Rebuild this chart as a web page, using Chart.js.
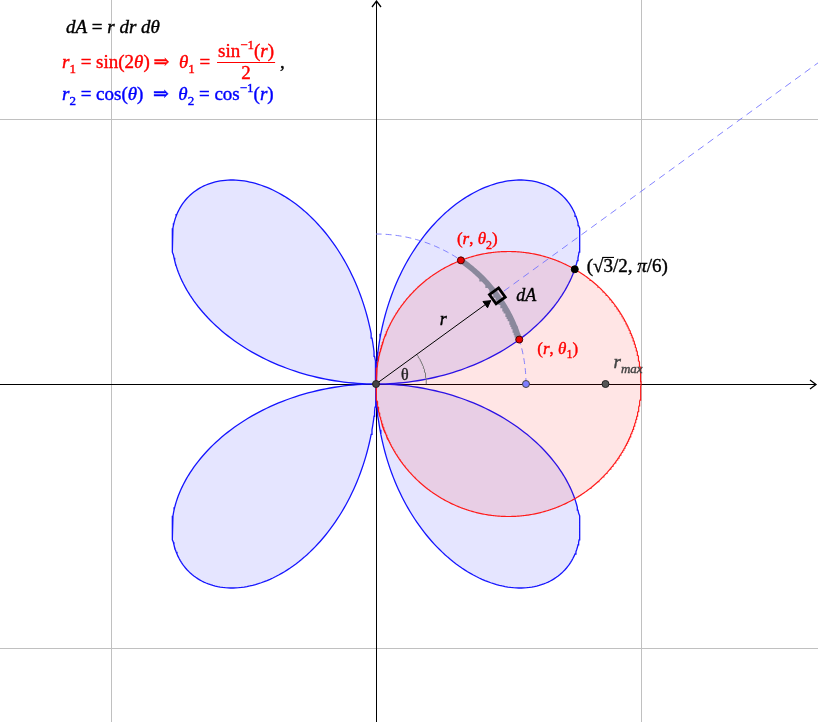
<!DOCTYPE html>
<html><head><meta charset="utf-8">
<script src="https://cdn.jsdelivr.net/npm/chart.js@4.4.1/dist/chart.umd.min.js"></script>
<style>html,body{margin:0;padding:0;background:#fff;overflow:hidden}canvas{display:block}
#fl{position:absolute;left:-9999px;top:0;font-family:"Liberation Serif";font-size:19px}</style>
</head><body>
<canvas id="c" width="818" height="722"></canvas>
<div id="fl">dA θ <i>dA θ r π</i></div>
<script>
// ---------- values ----------
const xRange = [-1.4189, 1.6679];          // visible x window (units)
const yRange = [-1.2755, 1.4491];          // visible y window (units)
const gridTicks = [-1, 0, 1];              // grid lines
const rChosen = [0.566];                   // radius r of the element dA
const thetaDeg = [36];                     // direction of dA (degrees)
const angleArcR = [0.19];                  // radius of the small θ arc
const intersectionPolar = [Math.sqrt(3) / 2, Math.PI / 6]; // (√3/2, π/6)
const rMaxValue = [0.866];                 // r_max on the x axis
const curveSamples = [720];                // sampling of the curves given in the text
// curves named in the chart text: r1 = sin(2θ) (blue rose), r2 = cos(θ) (red circle)

const r = rChosen[0];
const th = thetaDeg[0] * Math.PI / 180;
const th1 = Math.asin(r) / 2;   // θ1 = sin^-1(r)/2
const th2 = Math.acos(r);       // θ2 = cos^-1(r)

function polar(rr, t) { return { x: rr * Math.cos(t), y: rr * Math.sin(t) }; }
function arc(rr, a, b, n) { const out = []; for (let k = 0; k <= n; k++) out.push(polar(rr, a + (b - a) * k / n)); return out; }

const N = curveSamples[0];
const rosePts = [];
for (let k = 0; k <= N; k++) { const t = 2 * Math.PI * k / N; rosePts.push(polar(Math.sin(2 * t), t)); }
const circlePts = [];
for (let k = 0; k <= N; k++) { const t = -Math.PI / 2 + Math.PI * k / N; circlePts.push(polar(Math.cos(t), t)); }

const dashedArc = arc(r, 0, Math.PI / 2, 120);
const grayArc = arc(r, th1, th2, 80);
const angleArc = arc(angleArcR[0], 0, th, 40);
const vectorPts = [polar(0, th), polar(r - 0.03, th)];
const arrowHead = [polar(r - 0.048, th)];
const rayPts = [polar(r + 0.03, th), polar(2.2, th)];
const dAPt = [polar(r, th)];
const A1 = polar(r, th1), A2 = polar(r, th2);
const P = polar(intersectionPolar[0], intersectionPolar[1]);

const line = (data, color, width, order, extra) => Object.assign({
  data, showLine: true, borderColor: color, borderWidth: width, pointRadius: 0, pointHoverRadius: 0, fill: false, order, tension: 0
}, extra || {});
const pt = (data, fillC, border, radius, order, extra) => Object.assign({
  data, showLine: false, pointRadius: radius, pointBackgroundColor: fillC, pointBorderColor: border, pointBorderWidth: 1, order
}, extra || {});

// ---------- rich text helpers ----------
const FONT = '"Liberation Serif", "DejaVu Serif", serif';
const I = t => ({ t, i: true });
const R = t => ({ t });
const SUB = t => ({ t, sub: true });
const SUBI = t => ({ t, sub: true, i: true });
const SUP = t => ({ t, sup: true });
function fontOf(s, size) { const sz = (s.sub || s.sup) ? Math.round(size * 0.7) : size; return (s.i ? 'italic ' : 'normal ') + 'normal 400 ' + sz + 'px ' + FONT; }
function richWidth(ctx, segs, size) { let w = 0; for (const s of segs) { ctx.font = fontOf(s, size); w += ctx.measureText(s.t).width; } return w; }
function drawRich(ctx, segs, x, y, color, size) {
  ctx.fillStyle = color; ctx.strokeStyle = color; ctx.textBaseline = 'alphabetic'; ctx.textAlign = 'left';
  let cx = x;
  for (const s of segs) {
    ctx.font = fontOf(s, size);
    const dy = s.sub ? size * 0.28 : s.sup ? -size * 0.42 : 0;
    ctx.fillText(s.t, cx, y + dy);
    ctx.lineWidth = 0.4;
    ctx.strokeText(s.t, cx, y + dy);
    const w = ctx.measureText(s.t).width;
    if (s.over) { ctx.lineWidth = 1.1; ctx.beginPath(); ctx.moveTo(cx - 1, y - size * 0.78); ctx.lineTo(cx + w + 1, y - size * 0.78); ctx.stroke(); }
    cx += w;
  }
  return cx;
}

const axesPlugin = {
  id: 'axes',
  beforeDatasetsDraw(chart) {
    const c = chart.ctx, xs = chart.scales.x, ys = chart.scales.y;
    const x0 = Math.round(xs.getPixelForValue(0)), y0 = Math.round(ys.getPixelForValue(0));
    c.save();
    c.strokeStyle = '#000'; c.lineWidth = 1;
    c.beginPath();
    c.moveTo(xs.left, y0 + 0.5); c.lineTo(xs.right - 2, y0 + 0.5);
    c.moveTo(x0 + 0.5, ys.bottom); c.lineTo(x0 + 0.5, ys.top + 1);
    c.stroke();
    c.lineWidth = 1.3;
    c.beginPath();
    c.moveTo(xs.right - 8, y0 - 4); c.lineTo(xs.right - 2, y0 + 0.5); c.lineTo(xs.right - 8, y0 + 5);
    c.moveTo(x0 - 4, ys.top + 7); c.lineTo(x0 + 0.5, ys.top + 1); c.lineTo(x0 + 5, ys.top + 7);
    c.stroke();
    c.restore();
  }
};

const labelsPlugin = {
  id: 'labels',
  afterDatasetsDraw(chart) {
    const c = chart.ctx, xs = chart.scales.x, ys = chart.scales.y;
    const P2 = p => [xs.getPixelForValue(p.x), ys.getPixelForValue(p.y)];
    c.save();
    // formulas, top-left
    const S = 19;
    drawRich(c, [I('dA'), R(' = '), I('r'), R(' '), I('dr'), R(' '), I('dθ')], 66, 33, '#000', S);
    let x = drawRich(c, [I('r'), SUB('1'), R(' = sin(2'), I('θ'), R(')\u2009⇒\u2002'), I('θ'), SUB('1'), R(' = ')], 62, 68, '#ff0000', S);
    const num = [R('sin'), SUP('−1'), R('('), I('r'), R(')')];
    const nw = richWidth(c, num, S);
    const fx = x + 3;
    drawRich(c, num, fx, 57, '#ff0000', S);
    c.strokeStyle = '#ff0000'; c.lineWidth = 1.2;
    c.beginPath(); c.moveTo(fx - 1, 62.5); c.lineTo(fx + nw + 1, 62.5); c.stroke();
    c.font = fontOf(R('2'), S);
    const w2 = c.measureText('2').width;
    drawRich(c, [R('2')], fx + nw / 2 - w2 / 2, 79, '#ff0000', S);
    drawRich(c, [R(',')], fx + nw + 6, 68, '#000', S);
    drawRich(c, [I('r'), SUB('2'), R(' = cos('), I('θ'), R(')\u2002⇒\u2002'), I('θ'), SUB('2'), R(' = cos'), SUP('−1'), R('('), I('r'), R(')')], 62, 100, '#0000ff', S);

    // point labels
    let [px, py] = P2(A2);
    drawRich(c, [R('('), I('r'), R(', '), I('θ'), SUB('2'), R(')')], px - 4, py - 16, '#ff0000', 17);
    [px, py] = P2(A1);
    drawRich(c, [R('('), I('r'), R(', '), I('θ'), SUB('1'), R(')')], px + 18, py + 14, '#ff0000', 17);
    [px, py] = P2(P);
    drawRich(c, [R('(√'), { t: '3', over: true }, R('/2, '), I('π'), R('/6)')], px + 12, py + 3, '#000', 19);
    [px, py] = P2(dAPt[0]);
    drawRich(c, [I('dA')], px + 19, py + 5, '#000', 18);
    [px, py] = P2(polar(r / 2, th));
    drawRich(c, [I('r')], px + 3, py - 15, '#000', 18);
    [px, py] = P2({ x: 0, y: 0 });
    drawRich(c, [R('θ')], px + 25, py - 4, '#222', 16);
    [px, py] = P2({ x: rMaxValue[0], y: 0 });
    drawRich(c, [I('r'), SUBI('max')], px + 8, py - 16, '#444', 19);
    c.restore();
  }
};

function build() {
  const ctx = document.getElementById('c').getContext('2d');
  new Chart(ctx, {
    type: 'scatter',
    data: {
      datasets: [
        line(rosePts, '#1414ff', 1.3, 20, { fill: 'shape', backgroundColor: 'rgba(0,0,255,0.10)' }),
        line(circlePts, '#ff1a1a', 1.2, 19, { fill: 'shape', backgroundColor: 'rgba(255,0,0,0.10)' }),
        line(dashedArc, 'rgba(110,110,255,0.85)', 1, 18, { borderDash: [6, 4] }),
        line(rayPts, 'rgba(110,110,255,0.85)', 1, 17, { borderDash: [7, 5] }),
        line(grayArc, '#8a889c', 5.5, 16, { borderCapStyle: 'butt' }),
        line(angleArc, '#777', 1, 15),
        line(vectorPts, '#000', 1, 14),
        pt(arrowHead, '#000', '#000', 4.5, 13, { pointStyle: 'triangle', pointRotation: 90 - thetaDeg[0] }),
        pt(dAPt, 'rgba(0,0,0,0)', '#000', 8, 12, { pointStyle: 'rect', pointRotation: -thetaDeg[0], pointBorderWidth: 2.8 }),
        pt([{ x: 0, y: 0 }], '#444', '#222', 3.5, 5),
        pt([{ x: r, y: 0 }], '#7f7fff', '#444', 3.5, 5),
        pt([{ x: rMaxValue[0], y: 0 }], '#555', '#222', 3.5, 5),
        pt([P], '#000', '#000', 3.5, 5),
        pt([A1, A2], '#e80000', '#400', 3.5, 5)
      ]
    },
    options: {
      responsive: false, animation: false, devicePixelRatio: 1, events: [],
      layout: { padding: 0, autoPadding: false },
      plugins: { legend: { display: false }, tooltip: { enabled: false } },
      scales: {
        x: {
          type: 'linear', min: xRange[0], max: xRange[1],
          afterBuildTicks: s => { s.ticks = gridTicks.map(v => ({ value: v })); },
          ticks: { display: false }, border: { display: false },
          grid: { drawTicks: false, lineWidth: 1, color: c => (c.tick && c.tick.value === 0) ? 'rgba(0,0,0,0)' : '#c0c0c0' }
        },
        y: {
          type: 'linear', min: yRange[0], max: yRange[1],
          afterBuildTicks: s => { s.ticks = gridTicks.map(v => ({ value: v })); },
          ticks: { display: false }, border: { display: false },
          grid: { drawTicks: false, lineWidth: 1, color: c => (c.tick && c.tick.value === 0) ? 'rgba(0,0,0,0)' : '#c0c0c0' }
        }
      }
    },
    plugins: [axesPlugin, labelsPlugin]
  });
}

let built = false;
function go() { if (!built) { built = true; build(); } }
if (document.fonts && document.fonts.load) {
  Promise.all([
    document.fonts.load('19px "Liberation Serif"'),
    document.fonts.load('italic 19px "Liberation Serif"')
  ]).then(go, go);
  setTimeout(go, 600);
} else { go(); }
</script>
</body></html>
